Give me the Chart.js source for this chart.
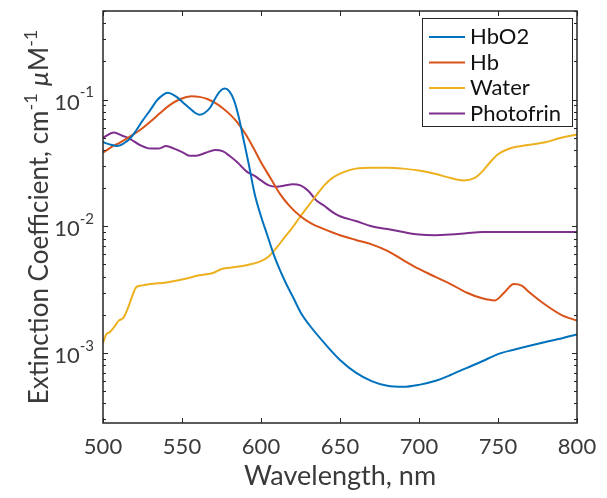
<!DOCTYPE html>
<html lang="en">
<head>
<meta charset="UTF-8">
<title>Extinction Coefficient</title>
<style>
  body { margin: 0; background: #fff; }
  #wrap { width: 607px; height: 498px; }
</style>
</head>
<body>
<div id="wrap"><canvas id="chart" width="607" height="498"></canvas></div>
<script src="https://cdn.jsdelivr.net/npm/chart.js"></script>
<script>
// wavelength (nm) and extinction values (cm^-1 uM^-1)
const hbo2Wl = [500, 505, 509, 513, 517, 521, 525, 530, 534, 538, 541, 544, 547, 551, 555, 558, 561, 564, 568, 571, 574, 577, 580, 583, 586, 589, 592, 596, 600, 604, 608, 612, 616, 620, 625, 630, 640, 650, 660, 670, 680, 690, 700, 710, 720, 730, 740, 750, 760, 770, 780, 790, 800];
const hbo2Val = [0.046, 0.044, 0.043, 0.045, 0.049, 0.057, 0.068, 0.083, 0.098, 0.109, 0.113, 0.110, 0.104, 0.094, 0.085, 0.079, 0.076, 0.078, 0.087, 0.102, 0.116, 0.122, 0.116, 0.098, 0.072, 0.048, 0.032, 0.018, 0.012, 0.0085, 0.006, 0.0045, 0.0035, 0.0028, 0.0021, 0.0017, 0.0012, 0.00088, 0.0007, 0.0006, 0.00055, 0.00054, 0.00056, 0.0006, 0.00067, 0.00076, 0.00086, 0.00098, 0.00106, 0.00114, 0.00122, 0.0013, 0.0014];

const hbWl = [500, 505, 511, 517, 523, 530, 536, 542, 549, 556, 561, 566, 571, 576, 581, 585, 590, 595, 600, 606, 612, 618, 625, 632, 640, 650, 660, 670, 680, 690, 700, 710, 720, 730, 740, 748, 754, 760, 765, 770, 780, 790, 800];
const hbVal = [0.038, 0.042, 0.046, 0.051, 0.057, 0.067, 0.078, 0.090, 0.101, 0.106, 0.105, 0.101, 0.094, 0.085, 0.075, 0.066, 0.054, 0.042, 0.032, 0.024, 0.018, 0.0145, 0.012, 0.0105, 0.0095, 0.0085, 0.0078, 0.0072, 0.0064, 0.0054, 0.0046, 0.004, 0.0035, 0.003, 0.0027, 0.0026, 0.003, 0.0035, 0.0034, 0.003, 0.0024, 0.002, 0.0018];

const waterWl = [500, 502, 504, 507, 510, 513, 516, 518, 521, 524, 530, 540, 550, 561, 570, 575, 580, 590, 600, 605, 610, 615, 620, 625, 630, 635, 640, 645, 650, 655, 660, 670, 680, 690, 700, 710, 720, 728, 735, 740, 745, 750, 755, 760, 770, 780, 790, 800];
const waterVal = [0.0012, 0.0014, 0.00145, 0.0016, 0.0018, 0.0019, 0.0023, 0.0027, 0.0033, 0.0034, 0.0035, 0.0036, 0.0038, 0.0041, 0.0043, 0.0046, 0.0047, 0.0049, 0.0053, 0.0058, 0.0068, 0.0082, 0.0098, 0.012, 0.0145, 0.0175, 0.021, 0.024, 0.026, 0.0275, 0.0285, 0.029, 0.029, 0.0285, 0.0275, 0.026, 0.024, 0.023, 0.024, 0.027, 0.032, 0.037, 0.040, 0.042, 0.044, 0.046, 0.050, 0.053];

const photoWl = [500, 507, 512, 517, 523, 530, 535, 540, 545, 551, 555, 559, 565, 571, 576, 580, 585, 591, 596, 600, 605, 610, 615, 620, 625, 630, 635, 640, 645, 650, 660, 670, 680, 690, 700, 710, 720, 730, 740, 760, 780, 800];
const photoVal = [0.050, 0.055, 0.052, 0.049, 0.044, 0.041, 0.041, 0.043, 0.041, 0.038, 0.036, 0.036, 0.038, 0.040, 0.039, 0.036, 0.032, 0.027, 0.025, 0.023, 0.021, 0.0205, 0.021, 0.0215, 0.021, 0.019, 0.016, 0.0145, 0.013, 0.012, 0.011, 0.010, 0.0095, 0.009, 0.0086, 0.0085, 0.0086, 0.0088, 0.009, 0.009, 0.009, 0.009];

const seriesNames = ['HbO2', 'Hb', 'Water', 'Photofrin'];
const seriesColors = ['#0072BD', '#D95319', '#EDB120', '#7E2F8E'];

const xTicks = [500, 550, 600, 650, 700, 750, 800];
const yTicks = [0.001, 0.01, 0.1];
const yTickExp = ['-3', '-2', '-1'];
const xMin = 500, xMax = 800;
const yMin = 2.8e-4, yMax = 0.5;

const FONT = 'Lato, "Open Sans", sans-serif';
const AXIS_COLOR = '#262626';
const TEXT_COLOR = '#3a3a3a';

function toPoints(wl, val) {
    return wl.map((w, i) => ({ x: w, y: val[i] }));
}

function drawRuns(ctx, runs, cx, cy) {
    // runs: text pieces, some superscript/italic; drawn centred on cx
    let total = 0;
    runs.forEach(r => {
        ctx.font = (r.italic ? 'italic ' : '') + r.size + 'px ' + FONT;
        r.w = ctx.measureText(r.t).width;
        total += r.w;
    });
    let x = cx - total / 2;
    ctx.textAlign = 'left';
    ctx.textBaseline = 'middle';
    runs.forEach(r => {
        ctx.font = (r.italic ? 'italic ' : '') + r.size + 'px ' + FONT;
        ctx.fillText(r.t, x, cy + (r.sup ? -9 : 0));
        x += r.w;
    });
}

const axesPlugin = {
    id: 'matlabAxes',
    afterDatasetsDraw(chart) {
        const ctx = chart.ctx;
        const a = chart.chartArea;
        const xs = chart.scales.x, ys = chart.scales.y;
        ctx.save();
        ctx.strokeStyle = AXIS_COLOR;
        ctx.lineWidth = 1;

        // inward ticks on x (bottom and top)
        ctx.beginPath();
        xTicks.forEach(v => {
            const px = Math.round(xs.getPixelForValue(v)) + 0.5;
            ctx.moveTo(px, a.bottom); ctx.lineTo(px, a.bottom - 5);
            ctx.moveTo(px, a.top); ctx.lineTo(px, a.top + 5);
        });
        // log ticks on y (left and right), major longer
        for (let e = -4; e <= 0; e++) {
            for (let m = 1; m <= 9; m++) {
                const v = m * Math.pow(10, e);
                if (v < yMin || v > yMax) continue;
                const py = Math.round(ys.getPixelForValue(v)) + 0.5;
                const len = m === 1 ? 5 : 3;
                ctx.moveTo(a.left, py); ctx.lineTo(a.left + len, py);
                ctx.moveTo(a.right, py); ctx.lineTo(a.right - len, py);
            }
        }
        ctx.stroke();

        // frame
        ctx.lineWidth = 1.5;
        ctx.strokeRect(a.left, a.top, a.right - a.left, a.bottom - a.top);

        ctx.fillStyle = TEXT_COLOR;
        // x tick labels
        ctx.font = '22px ' + FONT;
        ctx.textAlign = 'center';
        ctx.textBaseline = 'middle';
        xTicks.forEach(v => {
            ctx.fillText(String(v), xs.getPixelForValue(v), a.bottom + 24);
        });

        // y tick labels 10^n
        yTicks.forEach((v, i) => {
            const py = ys.getPixelForValue(v);
            ctx.font = '15px ' + FONT;
            const supW = ctx.measureText(yTickExp[i]).width;
            ctx.font = '22px ' + FONT;
            const baseW = ctx.measureText('10').width;
            const xEnd = a.left - 9;
            ctx.textAlign = 'left';
            ctx.fillText('10', xEnd - supW - baseW, py + 3);
            ctx.font = '15px ' + FONT;
            ctx.fillText(yTickExp[i], xEnd - supW, py - 7);
        });

        // x title
        ctx.font = '27px ' + FONT;
        ctx.textAlign = 'center';
        ctx.fillText('Wavelength, nm', (a.left + a.right) / 2, a.bottom + 53);

        // y title, rotated
        ctx.translate(38, (a.top + a.bottom) / 2);
        ctx.rotate(-Math.PI / 2);
        drawRuns(ctx, [
            { t: 'Extinction Coefficient, cm', size: 26 },
            { t: '-1', size: 18, sup: true },
            { t: ' ', size: 26 },
            { t: 'µ', size: 26, italic: true },
            { t: 'M', size: 26 },
            { t: '-1', size: 18, sup: true }
        ], 0, 2);
        ctx.restore();
    },
    afterDraw(chart) {
        // legend box in the upper right corner
        const ctx = chart.ctx;
        const bx = 422, by = 18, bw = 150, bh = 108;
        ctx.save();
        ctx.fillStyle = '#fff';
        ctx.fillRect(bx, by, bw, bh);
        ctx.strokeStyle = AXIS_COLOR;
        ctx.lineWidth = 1;
        ctx.strokeRect(bx + 0.5, by + 0.5, bw, bh);
        ctx.font = '22px ' + FONT;
        ctx.textAlign = 'left';
        ctx.textBaseline = 'middle';
        chart.data.datasets.forEach((ds, i) => {
            const y = by + 19 + i * 25.5;
            ctx.strokeStyle = ds.borderColor;
            ctx.lineWidth = 2;
            ctx.beginPath();
            ctx.moveTo(bx + 7, y); ctx.lineTo(bx + 43, y);
            ctx.stroke();
            ctx.fillStyle = '#111';
            ctx.fillText(ds.label, bx + 48, y);
        });
        ctx.restore();
    }
};

const seriesData = [
    toPoints(hbo2Wl, hbo2Val),
    toPoints(hbWl, hbVal),
    toPoints(waterWl, waterVal),
    toPoints(photoWl, photoVal)
];

new Chart(document.getElementById('chart'), {
    type: 'line',
    data: {
        datasets: seriesData.map((pts, i) => ({
            label: seriesNames[i],
            data: pts,
            borderColor: seriesColors[i],
            borderWidth: 2,
            pointRadius: 0,
            fill: false,
            cubicInterpolationMode: 'monotone'
        }))
    },
    options: {
        responsive: false,
        animation: false,
        devicePixelRatio: 1,
        layout: { padding: { left: 103, top: 11, right: 30, bottom: 75 } },
        plugins: { legend: { display: false }, tooltip: { enabled: false } },
        scales: {
            x: { type: 'linear', min: xMin, max: xMax, display: false },
            y: { type: 'logarithmic', min: yMin, max: yMax, display: false }
        }
    },
    plugins: [axesPlugin]
});
</script>
</body>
</html>
